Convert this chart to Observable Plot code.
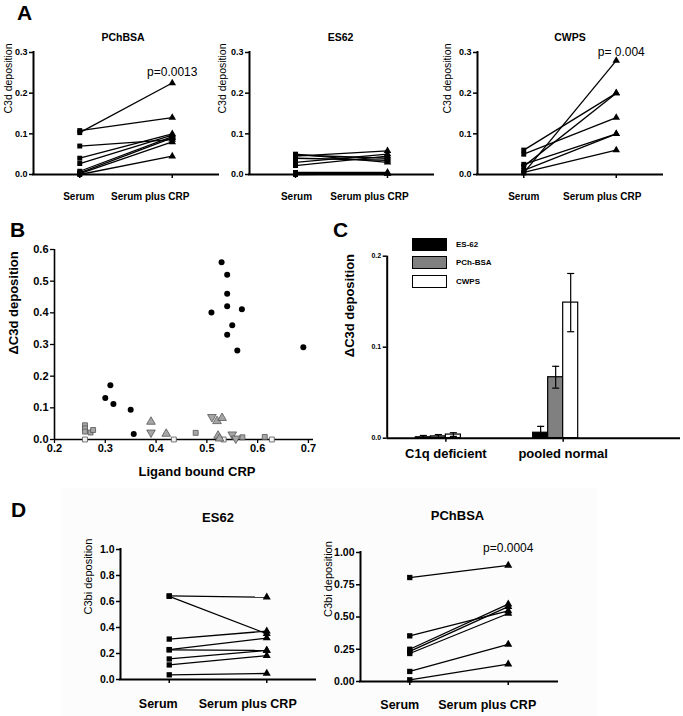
<!DOCTYPE html>
<html><head><meta charset="utf-8">
<script src="https://cdn.jsdelivr.net/npm/d3@7"></script>
<script src="https://cdn.jsdelivr.net/npm/@observablehq/plot@0.6"></script>
<style>
body{margin:0;background:#fff;}
#fig{position:relative;width:683px;height:716px;overflow:hidden;background:#fff;font-family:"Liberation Sans",Arial,Helvetica,sans-serif;color:#000;}
.letter{position:absolute;font-weight:bold;font-size:21px;line-height:1;}
.tint{position:absolute;background:#fcfcfc;}
.leg{position:absolute;font-size:8px;font-weight:bold;line-height:1;}
.legbox{position:absolute;width:33px;height:11px;border:1.5px solid #000;}
</style></head><body><div id="fig"></div>
<script>
// ---------- data ----------
const conditions = ["Serum", "Serum plus CRP"];

// Panel A (C3d deposition)
const a1Serum = [0.103, 0.108, 0.070, 0.040, 0.027, 0.008, 0.004, 0.002, 0.000];
const a1Crp   = [0.225, 0.140, 0.086, 0.100, 0.097, 0.093, 0.090, 0.080, 0.045];
const a2Serum = [0.050, 0.048, 0.045, 0.040, 0.030, 0.022, 0.005, 0.003, 0.000];
const a2Crp   = [0.030, 0.040, 0.058, 0.035, 0.050, 0.045, 0.005, 0.003, 0.002];
const a3Serum = [0.060, 0.050, 0.004, 0.020, 0.025, 0.010, 0.005];
const a3Crp   = [0.200, 0.140, 0.280, 0.200, 0.100, 0.100, 0.060];
const aTicks = [0, 0.1, 0.2, 0.3];

// Panel B (ΔC3d deposition vs ligand bound CRP), [x, y]
const bCircles = [[0.529,0.56],[0.54,0.52],[0.54,0.46],[0.54,0.421],[0.569,0.411],[0.509,0.401],[0.55,0.361],[0.54,0.331],[0.56,0.281],[0.69,0.291],[0.31,0.171],[0.30,0.131],[0.316,0.112],[0.35,0.094],[0.356,0.017]];
const bSquares = [[0.26,0.045],[0.26,0.035],[0.26,0.025],[0.26,0.0],[0.271,0.022],[0.276,0.03],[0.478,0.021],[0.435,0.0],[0.57,0.007],[0.614,0.008],[0.628,0.0],[0.533,0.0]];
const bUpTriangles = [[0.39,0.056],[0.42,0.018],[0.52,0.058],[0.53,0.068],[0.522,0.012],[0.525,0.003]];
const bDownTriangles = [[0.39,0.022],[0.51,0.071],[0.55,0.016],[0.557,0.003]];
const bXTicks = [0.2, 0.3, 0.4, 0.5, 0.6, 0.7];
const bYTicks = [0, 0.1, 0.2, 0.3, 0.4, 0.5, 0.6];

// Panel C (bars)
const cGroups = ["C1q deficient", "pooled normal"];
const cSeries = ["ES-62", "PCh-BSA", "CWPS"];
const cC1qMeans = [0.001, 0.002, 0.004];
const cC1qErrors = [0.002, 0.002, 0.002];
const cPooledMeans = [0.006, 0.067, 0.149];
const cPooledErrors = [0.007, 0.012, 0.032];
const cColors = ["#000000", "#808080", "#ffffff"];
const cTicks = [0, 0.1, 0.2];

// Panel D (C3bi deposition)
const d1Serum = [0.643, 0.640, 0.311, 0.230, 0.228, 0.158, 0.112, 0.036];
const d1Crp   = [0.633, 0.352, 0.372, 0.319, 0.224, 0.224, 0.184, 0.046];
const d2Serum = [0.806, 0.354, 0.250, 0.233, 0.217, 0.078, 0.013];
const d2Crp   = [0.900, 0.548, 0.600, 0.580, 0.527, 0.287, 0.134];
const d1Ticks = [0, 0.2, 0.4, 0.6, 0.8, 1.0];
const d2Ticks = [0, 0.25, 0.5, 0.75, 1.0];

// ---------- helpers ----------
const FONT = '"Liberation Sans", Arial, Helvetica, sans-serif';
const K = "#000";
const fig = document.getElementById("fig");
function place(el, left, top) {
  el.style.position = "absolute";
  el.style.left = left + "px";
  el.style.top = top + "px";
  fig.appendChild(el);
}
function div(cls, left, top, w, h, text, extra) {
  const e = document.createElement("div");
  e.className = cls;
  e.style.left = left + "px"; e.style.top = top + "px";
  if (w != null) e.style.width = w + "px";
  if (h != null) e.style.height = h + "px";
  if (text) e.textContent = text;
  if (extra) Object.assign(e.style, extra);
  fig.appendChild(e);
  return e;
}
const style = {fontFamily: FONT, color: "black", background: "transparent", overflow: "visible"};

function pairedPanel(c) {
  const rows = c.serum.map((s, i) => ({s, c: c.crp[i]}));
  const xs = conditions.indexOf("Serum"), xc = conditions.indexOf("Serum plus CRP");
  const yMax = c.ticks[c.ticks.length - 1];
  const marks = [
    Plot.ruleY([0], {stroke: K, strokeWidth: 2, strokeLinecap: "square"}),
    Plot.ruleX([-0.5], {y1: 0, y2: yMax, stroke: K, strokeWidth: 2, strokeLinecap: "square"}),
    Plot.axisY({ticks: c.ticks, tickFormat: d3.format(c.fmt), tickSize: 4, tickPadding: 2,
      fontSize: c.tickFont, fontWeight: "bold", stroke: K, fill: K, strokeWidth: 1.5, label: null}),
    Plot.axisX({ticks: [xs, xc], tickFormat: () => "", tickSize: 4, stroke: K, strokeWidth: 1.5, label: null}),
    Plot.text([conditions[xs]], {x: d => conditions.indexOf(d), frameAnchor: "bottom", dy: c.labDy, dx: c.serumDx,
      fontSize: c.xFont, fontWeight: "bold", fill: K}),
    Plot.text([conditions[xc]], {x: d => conditions.indexOf(d), frameAnchor: "bottom", dy: c.labDy, dx: c.crpDx,
      fontSize: c.xFont, fontWeight: "bold", fill: K}),
    Plot.link(rows, {x1: () => xs, y1: "s", x2: () => xc, y2: "c", stroke: K, strokeWidth: 1.3}),
    Plot.dot(rows, {x: () => xs, y: "s", symbol: "square", r: c.r, fill: K, stroke: "none"}),
    Plot.dot(rows, {x: () => xc, y: "c", symbol: "triangle", r: c.r, fill: K, stroke: "none"}),
    Plot.text([c.title], {frameAnchor: "top", dy: c.titleDy, dx: c.titleDx, fontSize: c.titleFont, fontWeight: "bold", fill: K}),
    Plot.text([c.yLabel], {frameAnchor: "left", rotate: -90, dx: c.yLabelDx, dy: c.yLabelDy || 0, fontSize: c.yLabelFont, fill: K})
  ];
  if (c.p) marks.push(Plot.text([c.p], {x: () => xc, frameAnchor: "top", dy: c.pDy, dx: c.pDx || 0, fontSize: 12, fill: K}));
  const p = Plot.plot({
    width: c.width, height: c.height,
    marginLeft: c.mL, marginRight: c.mR, marginTop: c.mT, marginBottom: c.mB,
    x: {type: "linear", domain: [-0.5, 1.5]},
    y: {type: "linear", domain: [0, yMax]},
    style, marks
  });
  place(p, c.left, c.top);
}

// ---------- Panel A ----------
div("letter", 17, 2, null, null, "A");
const aCommon = {ticks: aTicks, fmt: ".1f", tickFont: 9, xFont: 10, labDy: 25, r: 2.8, titleFont: 10.5,
  titleDy: -19, yLabel: "C3d deposition", yLabelFont: 10.5, height: 170, top: 40, mT: 12, mB: 36};
pairedPanel({...aCommon, serum: a1Serum, crp: a1Crp, title: "PChBSA", p: "p=0.0013", pDy: 15,
  left: 0, width: 225, mL: 33, mR: 7, titleDx: -3, yLabelDx: -25, serumDx: -1, crpDx: -22});
pairedPanel({...aCommon, serum: a2Serum, crp: a2Crp, title: "ES62",
  left: 220, width: 220, mL: 29, mR: 7, titleDx: -1, yLabelDx: -27, serumDx: 1, crpDx: -18});
pairedPanel({...aCommon, serum: a3Serum, crp: a3Crp, title: "CWPS", p: "p= 0.004", pDy: -5, pDx: 5,
  left: 450, width: 219, mL: 27, mR: 7, titleDx: 0, yLabelDx: -30, serumDx: 0, crpDx: -14});

// ---------- Panel B ----------
div("letter", 10, 219, null, null, "B");
{
  const toObj = a => a.map(([x, y]) => ({x, y}));
  const sq = toObj(bSquares);
  const p = Plot.plot({
    width: 320, height: 250, marginLeft: 54, marginRight: 7, marginTop: 9, marginBottom: 51,
    x: {type: "linear", domain: [0.2, 0.71]},
    y: {type: "linear", domain: [0, 0.6]},
    style,
    marks: [
      Plot.ruleY([0], {stroke: K, strokeWidth: 1.6}),
      Plot.ruleX([0.2], {y1: 0, y2: 0.6, stroke: K, strokeWidth: 1.6}),
      Plot.axisY({ticks: bYTicks, tickFormat: d3.format(".1f"), tickSize: 4, tickPadding: 2,
        fontSize: 11, fontWeight: "bold", stroke: K, fill: K, strokeWidth: 1.3, label: null}),
      Plot.axisX({ticks: bXTicks, tickFormat: d3.format(".1f"), tickSize: 4, tickPadding: 1,
        fontSize: 11, fontWeight: "bold", stroke: K, fill: K, strokeWidth: 1.3, label: null}),
      Plot.text(["Ligand bound CRP"], {frameAnchor: "bottom", dy: 36, dx: 13, fontSize: 13, fontWeight: "bold", fill: K}),
      Plot.text(["ΔC3d deposition"], {frameAnchor: "left", rotate: -90, dx: -41, dy: 10, fontSize: 13, fontWeight: "bold", fill: K}),
      Plot.dot(sq, {x: "x", y: "y", symbol: "square", r: 2.8, fill: d => d.y === 0 ? "#f2f2f2" : "#a6a6a6", stroke: "#555", strokeWidth: 0.8}),
      Plot.dot(toObj(bUpTriangles), {x: "x", y: "y", symbol: "triangle", r: 3.2, fill: "#a6a6a6", stroke: "#555", strokeWidth: 0.8}),
      Plot.dot(toObj(bDownTriangles), {x: "x", y: "y", symbol: "triangle", rotate: 180, r: 3.2, fill: "#a6a6a6", stroke: "#555", strokeWidth: 0.8}),
      Plot.dot(toObj(bCircles), {x: "x", y: "y", r: 3, fill: K, stroke: "none"})
    ]
  });
  place(p, 0, 240);
}

// ---------- Panel C ----------
div("letter", 333, 219, null, null, "C");
{
  const bw = 0.128, cap = 0.03;
  const rows = [];
  cGroups.forEach((g, gi) => {
    const means = gi === 0 ? cC1qMeans : cPooledMeans;
    const errs = gi === 0 ? cC1qErrors : cPooledErrors;
    cSeries.forEach((s, si) => {
      const x1 = gi + (si - 2) * bw;
      rows.push({g, s, v: means[si], e: errs[si], x1, x2: x1 + bw, xc: x1 + bw / 2,
        lo: Math.max(0, means[si] - errs[si]), hi: means[si] + errs[si]});
    });
  });
  const p = Plot.plot({
    width: 343, height: 230, marginLeft: 46.7, marginRight: 3, marginTop: 15.7, marginBottom: 32.3,
    x: {type: "linear", domain: [-0.5, 2.0]},
    y: {type: "linear", domain: [0, 0.2]},
    color: {domain: cSeries, range: cColors},
    style,
    marks: [
      Plot.rectY(rows, {x1: "x1", x2: "x2", y1: 0, y2: "v", fill: "s", stroke: K, strokeWidth: 1.2}),
      Plot.ruleX(rows, {x: "xc", y1: "lo", y2: "hi", stroke: K, strokeWidth: 1.2}),
      Plot.link(rows, {x1: d => d.xc - cap, x2: d => d.xc + cap, y1: "hi", y2: "hi", stroke: K, strokeWidth: 1.2}),
      Plot.link(rows.filter(d => d.v - d.e > 0), {x1: d => d.xc - cap, x2: d => d.xc + cap, y1: "lo", y2: "lo", stroke: K, strokeWidth: 1.2}),
      Plot.ruleY([0], {stroke: K, strokeWidth: 2}),
      Plot.ruleX([-0.5], {y1: 0, y2: 0.2, stroke: K, strokeWidth: 2}),
      Plot.axisY({ticks: cTicks, tickFormat: d3.format(".1f"), tickSize: 4, tickPadding: 2,
        fontSize: 7, fontWeight: "bold", stroke: K, fill: K, strokeWidth: 1.5, label: null}),
      Plot.axisX({ticks: [0, 1], tickFormat: i => cGroups[i], tickSize: 4, tickPadding: 7,
        fontSize: 13, fontWeight: "bold", stroke: K, fill: K, strokeWidth: 1.5, label: null}),
      Plot.text(["ΔC3d deposition"], {frameAnchor: "left", rotate: -90, dx: -37, dy: 10, fontSize: 13, fontWeight: "bold", fill: K})
    ]
  });
  place(p, 340, 240);
  // legend
  const legTops = [238, 256, 275];
  cSeries.forEach((s, i) => {
    div("legbox", 412, legTops[i], null, null, "", {background: cColors[i]});
    div("leg", 456, legTops[i] + 3, null, null, s);
  });
}

// ---------- Panel D ----------
div("tint", 62, 488, 535, 228);
div("letter", 11, 499, null, null, "D");
const dCommon = {xFont: 12.5, r: 3, titleFont: 13, yLabel: "C3bi deposition", yLabelFont: 11,
  tickFont: 10.5, height: 226, top: 490, width: 260, mL: 60};
pairedPanel({...dCommon, serum: d1Serum, crp: d1Crp, ticks: d1Ticks, fmt: ".1f", title: "ES62",
  left: 60, mR: 5, mT: 59, mB: 37, titleDy: -37, titleDx: 0, yLabelDx: -32, labDy: 28, serumDx: -11, crpDx: -19});
pairedPanel({...dCommon, serum: d2Serum, crp: d2Crp, ticks: d2Ticks, fmt: ".2f", title: "PChBSA", p: "p=0.0004", pDy: -9,
  left: 300, mR: 3, mT: 62, mB: 35, titleDy: -42, titleDx: -1.5, yLabelDx: -32, labDy: 27, serumDx: -10, crpDx: -21});
</script>
</body></html>
